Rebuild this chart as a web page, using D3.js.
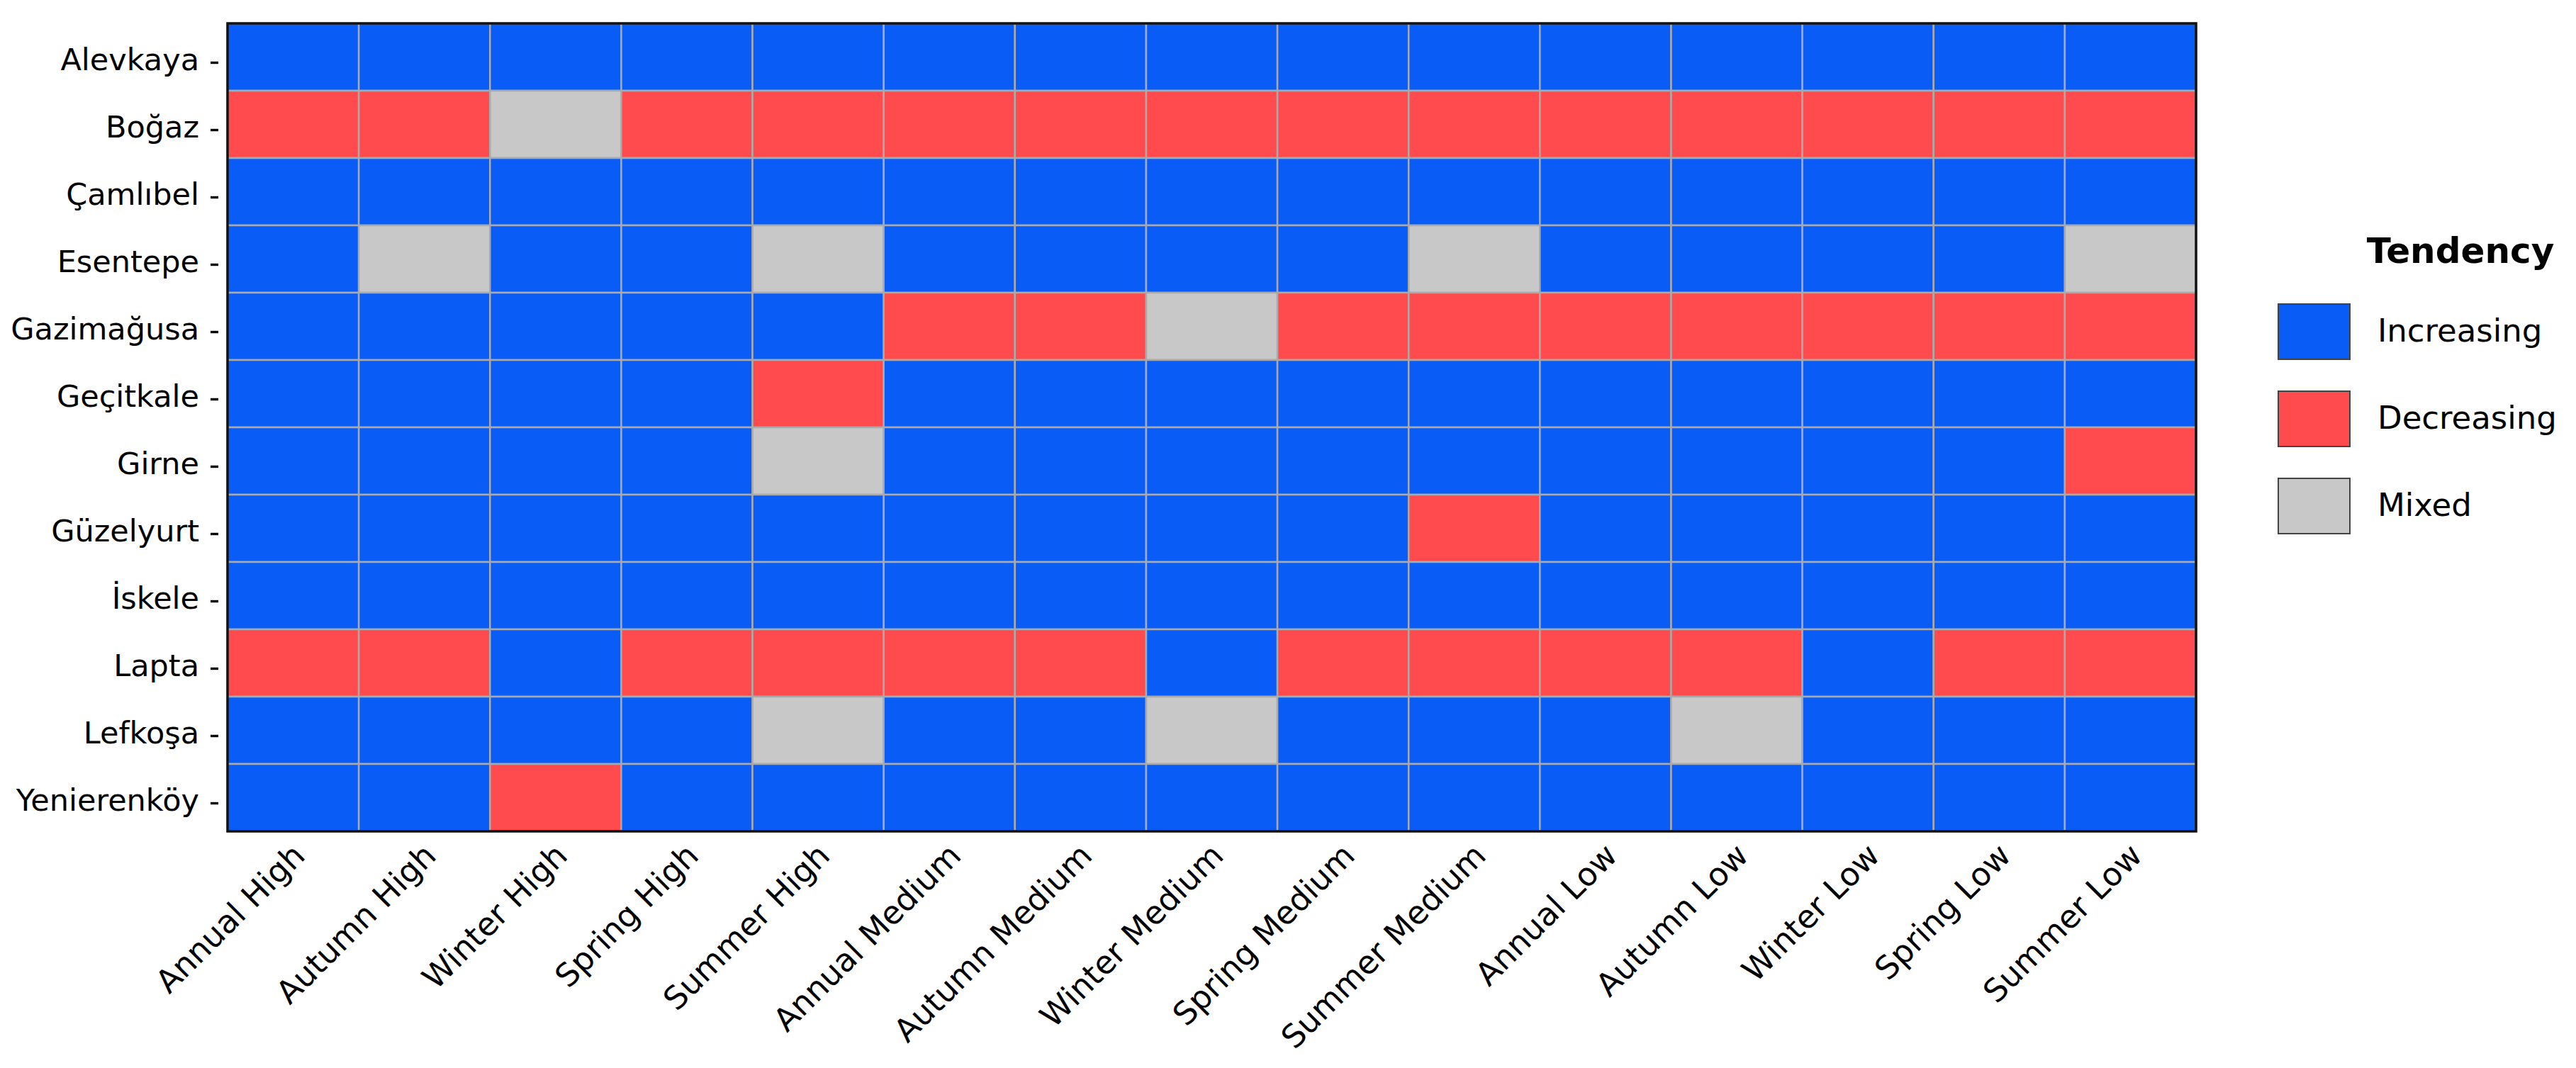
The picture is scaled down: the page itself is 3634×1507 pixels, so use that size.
<!DOCTYPE html>
<html lang="en">
  <head>
    <meta charset="UTF-8">
    <title>Tendency heatmap</title>
    <style>
      body { margin: 0; background: #fff; }
      svg { display: block; font-family: "DejaVu Sans", sans-serif; }
    </style>
  </head>
  <body>
    <svg id="chart" width="3634" height="1507"></svg>

    <script src="https://d3js.org/d3.v7.min.js"></script>
    <script>
      // stations (rows) and indices (columns)
      var stations = ["Alevkaya", "Boğaz", "Çamlıbel", "Esentepe", "Gazimağusa", "Geçitkale",
                      "Girne", "Güzelyurt", "İskele", "Lapta", "Lefkoşa", "Yenierenköy"];

      var indices = ["Annual High", "Autumn High", "Winter High", "Spring High", "Summer High",
                     "Annual Medium", "Autumn Medium", "Winter Medium", "Spring Medium", "Summer Medium",
                     "Annual Low", "Autumn Low", "Winter Low", "Spring Low", "Summer Low"];

      var tendencies = ["Increasing", "Decreasing", "Mixed"];
      var colors = ["#0a5cf6", "#ff4b4d", "#c8c8c8"];

      // I = increasing, D = decreasing, M = mixed ; one string per station, one letter per index
      var values = [
        "IIIIIIIIIIIIIII",
        "DDMDDDDDDDDDDDD",
        "IIIIIIIIIIIIIII",
        "IMIIMIIIIMIIIIM",
        "IIIIIDDMDDDDDDD",
        "IIIIDIIIIIIIIII",
        "IIIIMIIIIIIIIID",
        "IIIIIIIIIDIIIII",
        "IIIIIIIIIIIIIII",
        "DDIDDDDIDDDDIDD",
        "IIIIMIIMIIIMIII",
        "IIDIIIIIIIIIIII"
      ];
      var code = {I: "Increasing", D: "Decreasing", M: "Mixed"};

      var cells = [];
      values.forEach(function (row, i) {
        row.split("").forEach(function (c, j) {
          cells.push({station: stations[i], index: indices[j], tendency: code[c]});
        });
      });

      var svg = d3.select("#chart");
      var plotLeft = 321, plotRight = 3098, plotTop = 33, plotBottom = 1173;

      var x = d3.scaleBand().domain(indices).range([plotLeft, plotRight]);
      var y = d3.scaleBand().domain(stations).range([plotTop, plotBottom]);
      var color = d3.scaleOrdinal().domain(tendencies).range(colors);

      // cells
      svg.append("g")
        .selectAll("rect")
        .data(cells)
        .join("rect")
          .attr("x", function (d) { return x(d.index); })
          .attr("y", function (d) { return y(d.station); })
          .attr("width", x.bandwidth())
          .attr("height", y.bandwidth())
          .attr("fill", function (d) { return color(d.tendency); })
          .attr("stroke", "#aaaaaa")
          .attr("stroke-width", 2.5);

      // frame
      svg.append("rect")
        .attr("x", plotLeft).attr("y", plotTop)
        .attr("width", plotRight - plotLeft).attr("height", plotBottom - plotTop)
        .attr("fill", "none")
        .attr("stroke", "#111")
        .attr("stroke-width", 3.5);

      // y axis labels with the little dash
      var yAxis = svg.append("g")
        .attr("transform", "translate(" + plotLeft + ",0)")
        .call(d3.axisLeft(y).tickSize(0).tickPadding(40));
      yAxis.select(".domain").remove();
      yAxis.selectAll("text")
        .attr("dy", "0.43em")
        .attr("fill", "#000")
        .style("font-size", "43px")
        .style("font-family", "DejaVu Sans");
      yAxis.selectAll(".tick").append("line")
        .attr("x1", -24).attr("x2", -13)
        .attr("y1", 8).attr("y2", 8)
        .attr("stroke", "#000")
        .attr("stroke-width", 3.4);

      // x axis labels, rotated
      var xAxis = svg.append("g")
        .attr("transform", "translate(0," + plotBottom + ")")
        .call(d3.axisBottom(x).tickSize(0));
      xAxis.select(".domain").remove();
      xAxis.selectAll("text")
        .attr("x", 0).attr("y", 0).attr("dy", 0)
        .attr("transform", "translate(19,37) rotate(-45)")
        .attr("text-anchor", "end")
        .attr("fill", "#000")
        .style("font-size", "45px")
        .style("font-family", "DejaVu Sans");

      // legend
      var legend = svg.append("g");
      legend.append("text")
        .attr("x", 3471).attr("y", 371)
        .attr("text-anchor", "middle")
        .style("font-size", "50px")
        .style("font-weight", "bold")
        .text("Tendency");

      var item = legend.selectAll("g.item")
        .data(tendencies)
        .join("g")
          .attr("class", "item")
          .attr("transform", function (d, i) { return "translate(3214," + (429 + i * 123) + ")"; });
      item.append("rect")
        .attr("width", 101).attr("height", 78)
        .attr("fill", function (d) { return color(d); })
        .attr("stroke", "#444")
        .attr("stroke-width", 2);
      item.append("text")
        .attr("x", 140).attr("y", 53)
        .style("font-size", "45px")
        .text(function (d) { return d; });
    </script>
  </body>
</html>
